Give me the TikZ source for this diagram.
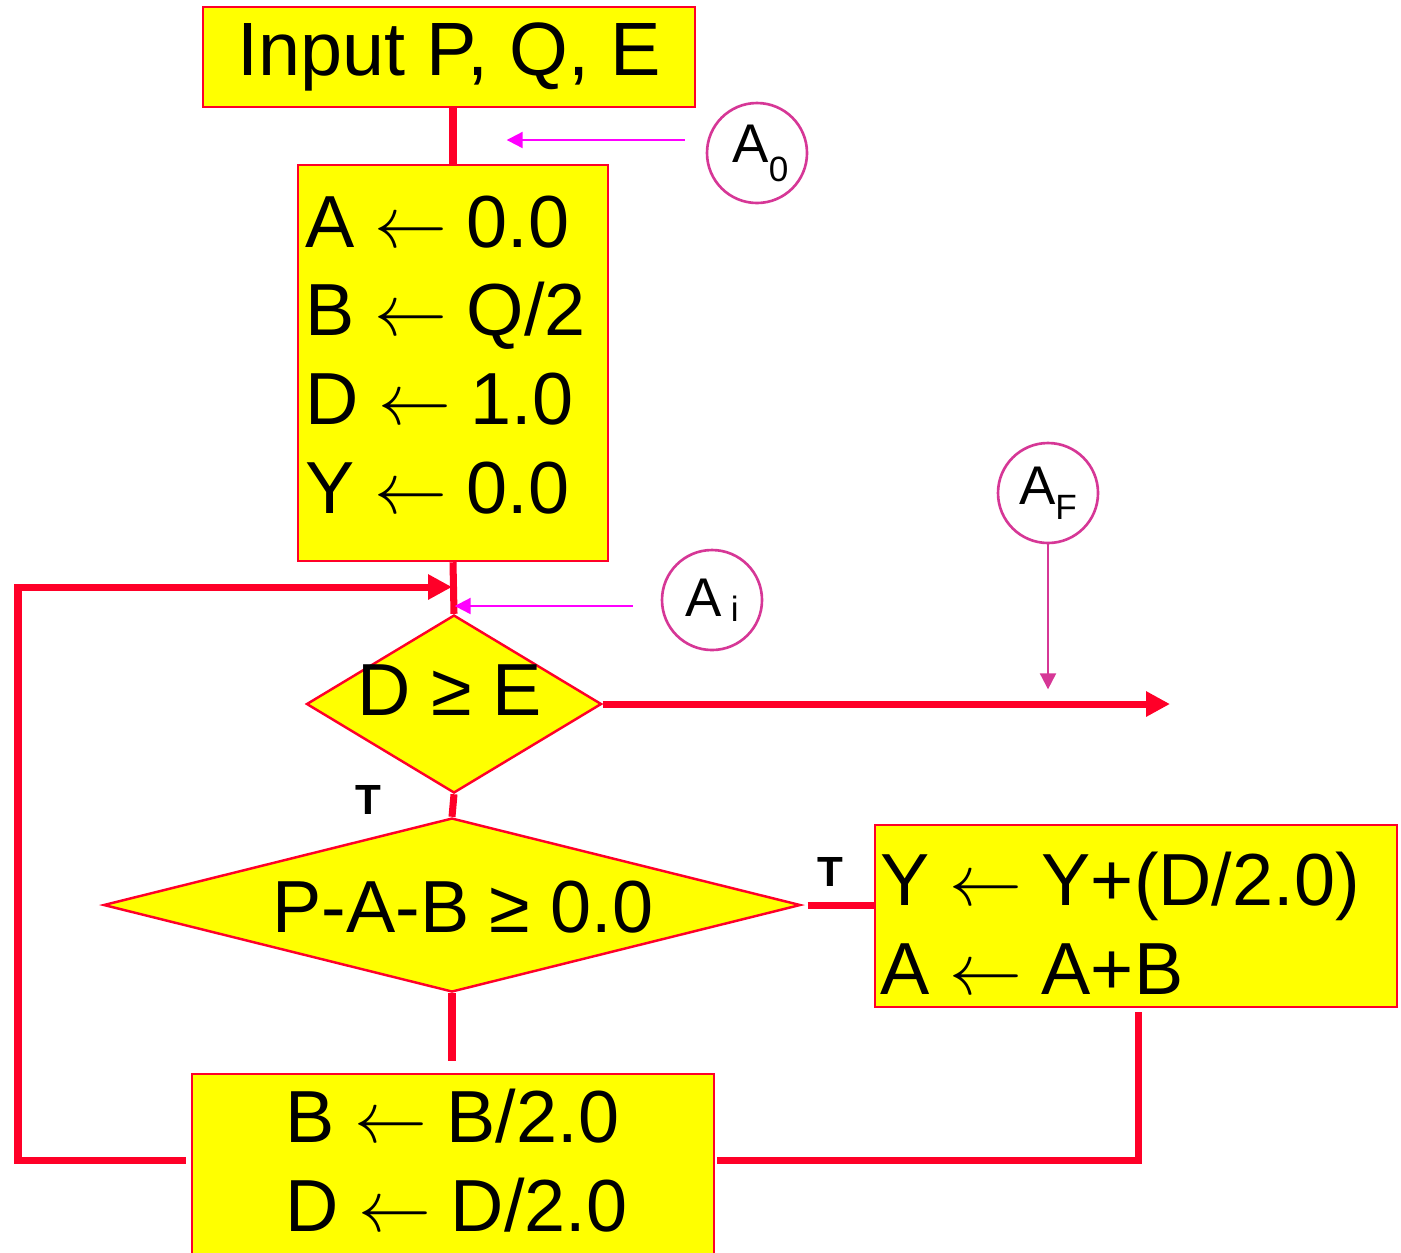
\documentclass[tikz,border=0pt]{standalone}
\usepackage{fontspec}
\setmainfont{Liberation Sans}
\usetikzlibrary{shapes.geometric,arrows.meta,calc}
\definecolor{fred}{RGB}{255,0,40}
\definecolor{fyel}{RGB}{255,255,0}
\definecolor{fmag}{RGB}{255,0,255}
\definecolor{fpink}{RGB}{214,55,150}
\newcommand{\la}{\hspace{-0.3pt}$\leftarrow$\hspace{-0.3pt}}
\begin{document}
\begin{tikzpicture}[x=1cm,y=1cm,
  box/.style={draw=fred, fill=fyel, line width=0.7pt, inner sep=0pt, font=\fontsize{21}{25.3}\selectfont},
  btext/.style={inner sep=0pt, align=left, font=\fontsize{21}{25.3}\selectfont},
  dia/.style={draw=fred, fill=fyel, line width=0.7pt, shape=diamond, inner sep=0pt},
  conn/.style={draw=fred, line width=2pt},
  carrow/.style={conn, -{Triangle[length=0.24cm,width=0.24cm]}},
  marrow/.style={draw=fmag, line width=0.6pt, -{Triangle[length=0.16cm,width=0.16cm]}},
  parrow/.style={draw=fpink, line width=0.6pt, -{Triangle[length=0.16cm,width=0.16cm]}},
  circ/.style={draw=fpink, line width=0.75pt, circle, minimum size=1.0cm, inner sep=0pt, font=\fontsize{15.5}{15.5}\selectfont},
  dtext/.style={anchor=base, font=\fontsize{21}{25.3}\selectfont},
  tlab/.style={font=\fontsize{12}{12}\selectfont\bfseries}
]
\useasboundingbox (0,0) rectangle (14.01,-12.52);

% boxes
\node[box, font=\fontsize{21.5}{25}\selectfont, minimum width=4.92cm, minimum height=1.00cm] (b1) at (4.49,-0.57) {Input P, Q, E\hspace{10pt}};
\node[box, minimum width=3.10cm, minimum height=3.96cm] (b2) at (4.53,-3.63) {};
\node[btext, anchor=west] (b2t) at (3.05,-3.55)
  {A \la{} 0.0\\B \la{} Q/2\\D \la{} 1.0\\Y \la{} 0.0};
\node[box, minimum width=5.22cm, minimum height=1.82cm] (b4) at (11.36,-9.16) {};
\node[btext, anchor=west] (b4t) at (8.80,-9.23)
  {Y \la{} Y+(D/2.0)\\A \la{} A+B};
\node[box, minimum width=5.22cm, minimum height=1.90cm] (b3) at (4.53,-11.69) {};
\node[btext, anchor=west] (b3t) at (2.85,-11.61)
  {B \la{} B/2.0\\D \la{} D/2.0};

% diamonds
\node[dia, minimum width=2.95cm, minimum height=1.78cm] (d1) at (4.54,-7.04) {};
\node[dtext] (t1) at (4.50,-7.15) {D ≥ E};
\node[dia, minimum width=6.97cm, minimum height=1.74cm] (d2) at (4.52,-9.05) {};
\node[dtext] (t2) at (4.63,-9.32) {P-A-B ≥ 0.0};

% circles
\node[circ] (a0) at (7.57,-1.53) {\hspace{2pt}A\raisebox{-5.4pt}{\fontsize{10}{10}\selectfont 0}};
\node[circ] (ai) at (7.12,-6.00) {A\,\raisebox{-1.4pt}{\fontsize{10}{10}\selectfont i}};
\node[circ] (af) at (10.48,-4.93) {A\raisebox{-4.2pt}{\fontsize{10}{10}\selectfont F}};

% labels
\node[tlab] (tl1) at (3.68,-8.00) {T};
\node[tlab] (tl2) at (8.30,-8.72) {T};

% coordinates
\coordinate (jn) at (4.52,-5.87);
\coordinate (exit) at (11.70,-7.01);
\coordinate (lc) at (0.18,-11.60);
\coordinate (rc) at (11.38,-11.60);

% connectors
\draw[conn] (b1.south -| b2.north) -- (b2.north);
\draw[conn] (b2.south) -- (d1.north);
\draw[carrow] ($(b3.west |- lc)+(-0.05,0)$) -- (lc) |- (jn);
\draw[carrow] (d1.east) -- (d1.east -| exit);
\draw[conn] (d1.south) -- (d2.north);
\draw[conn] ($(d2.east)+(0.06,0)$) -- (d2.east -| b4.west);
\draw[conn] (d2.south) -- ($(d2.south |- b3.north)+(0,0.12)$);
\draw[conn] ($(b4.south -| rc)+(0,-0.04)$) -- (rc) -- ($(rc -| b3.east)+(0.02,0)$);

% annotation arrows
\draw[marrow] ($(a0.west)+(-0.21,0.13)$) -- ++(-1.78,0);
\draw[marrow] ($(ai.west)+(-0.28,-0.06)$) -- ++(-1.78,0);
\draw[parrow] (af.south) -- ++(0,-1.45);
\end{tikzpicture}
\end{document}
